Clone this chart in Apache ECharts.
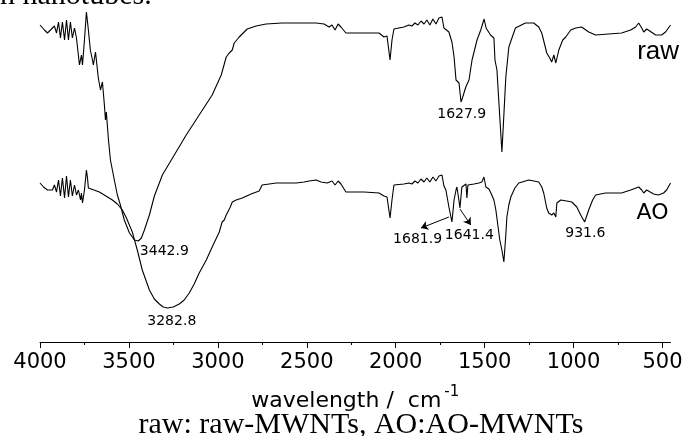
<!DOCTYPE html>
<html>
<head>
<meta charset="utf-8">
<script src="https://cdn.jsdelivr.net/npm/echarts@6/dist/echarts.min.js"></script>
<style>
    html, body { margin: 0; padding: 0; background: #fff; }
    #main { width: 687px; height: 436px; }
</style>
</head>
<body>
<div id="main"></div>
<script>
const log = console.log.bind(console)
const e = sel => document.querySelector(sel)

// wavenumber (cm-1), transmittance (arbitrary units)
const rawSpectrum = [
    [4000, 317], [3975, 312], [3958, 309], [3941, 312], [3930, 311], [3919, 316],
    [3907, 309], [3896, 320], [3885, 304], [3874, 320], [3862, 302], [3851, 322],
    [3840, 302], [3829, 320], [3818, 304], [3806, 314], [3795, 304], [3784, 302],
    [3778, 277], [3767, 287], [3761, 277], [3750, 302], [3739, 330], [3728, 312],
    [3717, 292], [3705, 282], [3700, 277], [3688, 290], [3677, 272], [3672, 264],
    [3660, 252], [3649, 260], [3638, 237], [3632, 222], [3627, 230], [3615, 202],
    [3604, 182], [3593, 172], [3582, 162], [3565, 147], [3548, 137], [3526, 122],
    [3497, 109], [3469, 102], [3447, 101], [3430, 104], [3413, 112], [3385, 127],
    [3357, 146], [3312, 167], [3245, 187], [3178, 207], [3105, 227], [3032, 247],
    [2981, 267], [2953, 285], [2936, 289], [2919, 292], [2908, 299], [2880, 305],
    [2835, 313], [2785, 316], [2729, 318], [2639, 319], [2543, 319], [2448, 319],
    [2403, 318], [2375, 315], [2358, 317], [2341, 312], [2324, 318], [2308, 315],
    [2280, 309], [2178, 309], [2094, 309], [2066, 305], [2049, 306], [2032, 282],
    [2021, 302], [2010, 313], [1954, 315], [1926, 317], [1909, 316], [1892, 319],
    [1875, 317], [1858, 321], [1841, 318], [1825, 322], [1808, 317], [1791, 323],
    [1774, 318], [1757, 324], [1740, 325], [1729, 314], [1718, 312], [1701, 310],
    [1684, 300], [1672, 285], [1661, 262], [1644, 259], [1633, 240], [1625, 244],
    [1606, 255], [1588, 262], [1571, 282], [1554, 294], [1543, 302], [1522, 312],
    [1503, 323], [1492, 314], [1467, 307], [1448, 304], [1442, 282], [1431, 272],
    [1414, 222], [1403, 190], [1392, 227], [1381, 265], [1364, 295], [1327, 314],
    [1271, 319], [1224, 319], [1196, 315], [1179, 309], [1162, 297], [1151, 289],
    [1134, 284], [1123, 280], [1111, 287], [1100, 279], [1083, 292], [1061, 302],
    [1044, 305], [1016, 312], [988, 314], [955, 315], [915, 310], [876, 307],
    [803, 308], [730, 309], [679, 312], [651, 315], [634, 319], [617, 314],
    [606, 310], [589, 313], [578, 312], [555, 309], [539, 307], [505, 307],
    [483, 310], [455, 317],
]

const aoSpectrum = [
    [4000, 159], [3980, 155], [3958, 152], [3947, 154], [3930, 152], [3919, 157],
    [3907, 150], [3896, 162], [3885, 146], [3874, 164], [3862, 144], [3851, 166],
    [3840, 145], [3829, 162], [3818, 146], [3806, 157], [3795, 147], [3784, 152],
    [3772, 142], [3767, 149], [3761, 139], [3750, 152], [3739, 172], [3733, 164],
    [3728, 154], [3666, 150], [3593, 142], [3565, 138], [3537, 132], [3514, 124],
    [3481, 110], [3453, 92], [3425, 72], [3385, 52], [3357, 43], [3329, 38],
    [3307, 35], [3284, 34], [3251, 35], [3217, 38], [3189, 42], [3161, 49],
    [3133, 58], [3105, 69], [3065, 82], [3032, 95], [2992, 110], [2976, 120],
    [2964, 122], [2953, 127], [2930, 135], [2919, 140], [2897, 142], [2863, 144],
    [2813, 148], [2768, 151], [2757, 152], [2751, 157], [2672, 159], [2560, 159],
    [2515, 160], [2487, 161], [2448, 162], [2420, 160], [2386, 159], [2358, 161],
    [2341, 157], [2324, 161], [2308, 158], [2280, 150], [2178, 150], [2094, 149],
    [2066, 146], [2049, 145], [2032, 124], [2021, 142], [2010, 157], [1954, 158],
    [1926, 159], [1909, 158], [1892, 161], [1875, 159], [1858, 163], [1841, 160],
    [1825, 164], [1808, 160], [1791, 165], [1774, 161], [1757, 166], [1740, 167],
    [1729, 156], [1718, 152], [1701, 135], [1684, 120], [1672, 142], [1661, 152],
    [1656, 155], [1645, 142], [1639, 134], [1628, 155], [1617, 157], [1605, 158],
    [1600, 144], [1594, 157], [1588, 156], [1560, 158], [1532, 159], [1516, 160],
    [1504, 165], [1493, 155], [1476, 153], [1465, 149], [1448, 142], [1437, 132],
    [1426, 117], [1415, 102], [1403, 92], [1392, 80], [1381, 107], [1375, 125],
    [1364, 137], [1353, 145], [1330, 154], [1308, 159], [1252, 162], [1196, 160],
    [1179, 155], [1168, 149], [1151, 134], [1140, 129], [1123, 127], [1111, 129],
    [1100, 125], [1094, 139], [1072, 142], [1039, 141], [1010, 140], [982, 135],
    [960, 127], [938, 120], [915, 132], [893, 142], [876, 147], [820, 149],
    [730, 149], [679, 152], [634, 155], [617, 152], [606, 149], [589, 152],
    [578, 152], [550, 148], [522, 147], [494, 149], [477, 152], [455, 159],
]

const majorTicks = [500, 1000, 1500, 2000, 2500, 3000, 3500, 4000]
const minorTicks = [750, 1250, 1750, 2250, 2750, 3250, 3750]

// peak annotations: text, wavenumber, value
const peakTexts = ['3442.9', '3282.8', '1627.9', '1681.9', '1641.4', '931.6']
const peakAt = [[3301, 91], [3259, 21], [1629, 228], [1877, 103], [1586, 107], [934, 109]]

// arrows from peak to its label (AO curve)
const arrowFrom = [[1701, 125], [1639, 133]]
const arrowTo = [[1858, 114], [1578, 117]]

const sansWide = '"DejaVu Sans", Verdana, sans-serif'
const serif = '"Liberation Serif", "Times New Roman", serif'

const peakPoints = () => {
    let list = []
    for (let i = 0; i < peakTexts.length; i++) {
        list.push({
            coord: peakAt[i],
            name: peakTexts[i],
        })
    }
    return list
}

const arrowLines = () => {
    let list = []
    for (let i = 0; i < arrowFrom.length; i++) {
        list.push([{ coord: arrowFrom[i] }, { coord: arrowTo[i] }])
    }
    return list
}

const initChart = () => {
    let myChart = echarts.init(e('#main'))
    let option = {
        animation: false,
        backgroundColor: '#fff',
        grid: {
            left: 40,
            right: 15,
            top: 10,
            bottom: 94,
        },
        xAxis: [
            {
                type: 'value',
                min: 455,
                max: 4000,
                inverse: true,
                splitLine: { show: false },
                axisLine: { lineStyle: { color: '#000', width: 1 } },
                axisTick: {
                    customValues: majorTicks,
                    length: 6,
                    lineStyle: { color: '#000', width: 1 },
                },
                axisLabel: {
                    customValues: majorTicks,
                    formatter: v => String(v),
                    color: '#000',
                    fontFamily: sansWide,
                    fontSize: 21,
                    margin: 10,
                },
                name: '{a|wavelength /  cm}{b|-1}',
                nameLocation: 'middle',
                nameGap: 43,
                nameTextStyle: {
                    rich: {
                        a: {
                            fontFamily: sansWide,
                            fontSize: 22,
                            color: '#000',
                            verticalAlign: 'bottom',
                            lineHeight: 26,
                        },
                        b: {
                            fontFamily: sansWide,
                            fontSize: 15,
                            color: '#000',
                            verticalAlign: 'bottom',
                            padding: [0, 0, 12, 3],
                        },
                    },
                },
            },
            {
                type: 'value',
                min: 455,
                max: 4000,
                inverse: true,
                position: 'bottom',
                splitLine: { show: false },
                axisLine: { show: false },
                axisTick: {
                    customValues: minorTicks,
                    length: 3,
                    lineStyle: { color: '#000', width: 1 },
                },
                axisLabel: { show: false },
            },
        ],
        yAxis: {
            type: 'value',
            show: false,
            min: 0,
            max: 332,
        },
        series: [
            {
                name: 'raw',
                type: 'line',
                data: rawSpectrum,
                showSymbol: false,
                lineStyle: { color: '#000', width: 1.1 },
                emphasis: { disabled: true },
                markPoint: {
                    symbol: 'circle',
                    symbolSize: 0,
                    silent: true,
                    label: {
                        show: true,
                        position: 'inside',
                        formatter: '{b}',
                        color: '#000',
                        fontFamily: sansWide,
                        fontSize: 14,
                    },
                    data: peakPoints(),
                },
            },
            {
                name: 'AO',
                type: 'line',
                data: aoSpectrum,
                showSymbol: false,
                lineStyle: { color: '#000', width: 1.1 },
                emphasis: { disabled: true },
                markPoint: {
                    symbol: 'circle',
                    symbolSize: 0,
                    silent: true,
                    label: {
                        show: true,
                        position: 'inside',
                        formatter: '{b}',
                        color: '#000',
                    },
                    data: [
                        {
                            name: 'raw',
                            coord: [525, 290],
                            label: { fontFamily: '"Liberation Sans", Arial, sans-serif', fontSize: 26 },
                        },
                        {
                            name: 'AO',
                            coord: [556, 129],
                            label: { fontFamily: sansWide, fontSize: 22 },
                        },
                    ],
                },
                markLine: {
                    silent: true,
                    symbol: ['none', 'arrow'],
                    symbolSize: 7,
                    label: { show: false },
                    lineStyle: { color: '#000', width: 1, type: 'solid' },
                    data: arrowLines(),
                },
            },
        ],
        graphic: [
            {
                type: 'text',
                x: 0,
                y: -4,
                style: {
                    text: 'n nanotubes.',
                    fontFamily: serif,
                    fontSize: 30,
                    fill: '#000',
                    align: 'left',
                    verticalAlign: 'middle',
                },
            },
            {
                type: 'text',
                x: 361,
                y: 425,
                style: {
                    text: 'raw: raw-MWNTs, AO:AO-MWNTs',
                    fontFamily: serif,
                    fontSize: 30,
                    fill: '#000',
                    align: 'center',
                    verticalAlign: 'middle',
                },
            },
        ],
    }
    myChart.setOption(option)
}

const __main = () => {
    initChart()
}

__main()
</script>
</body>
</html>
